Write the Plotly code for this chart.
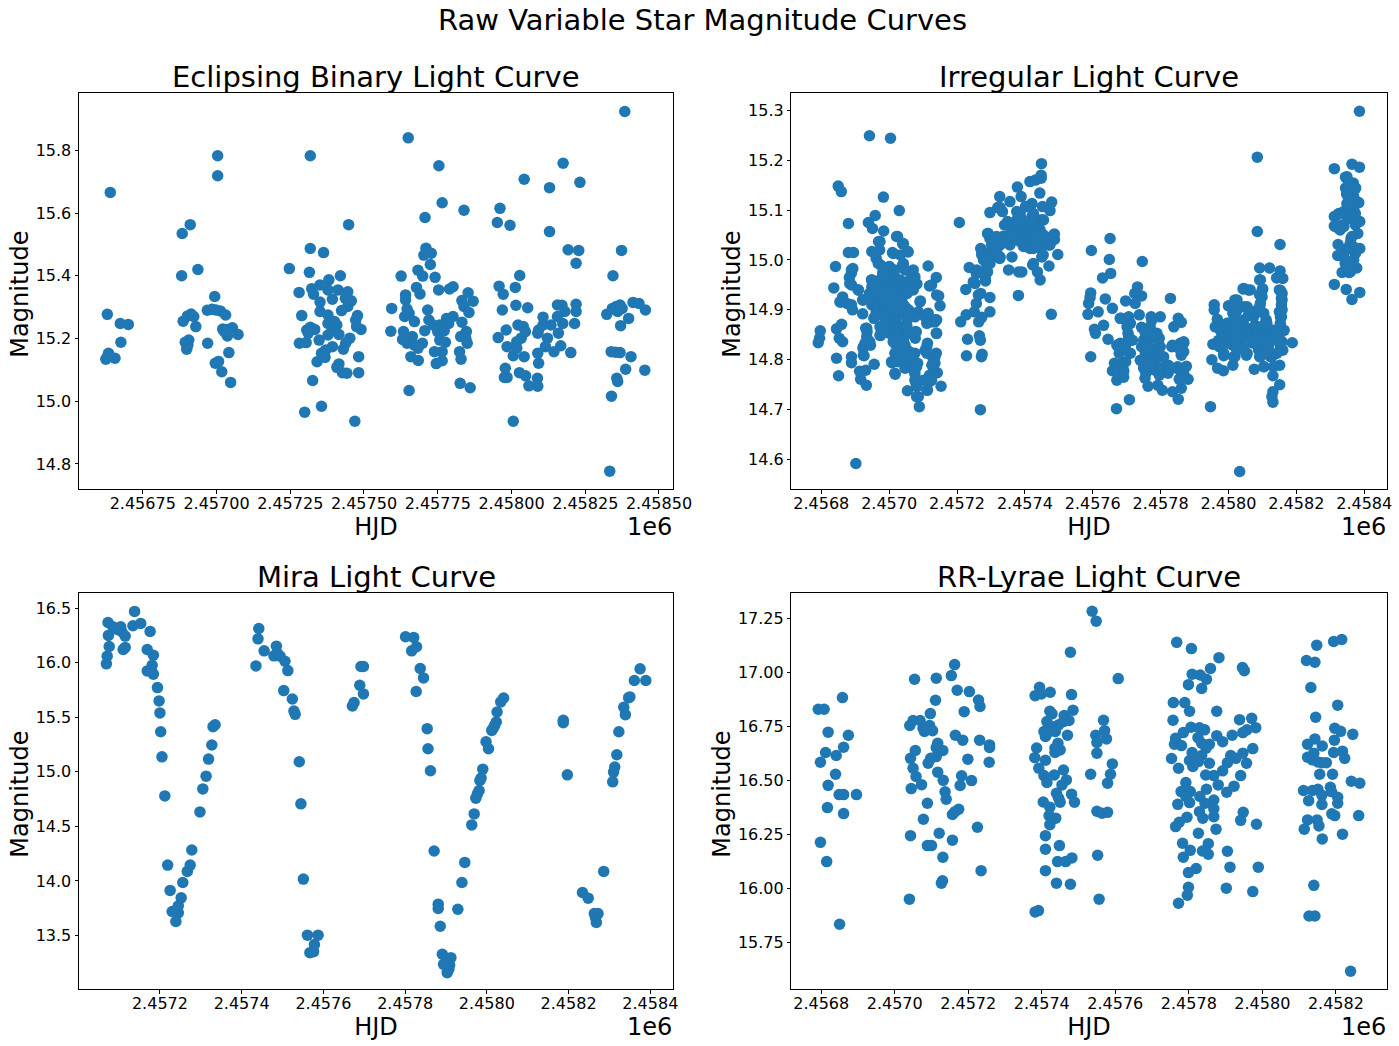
import plotly.graph_objects as go

# Each point is (HJD - 2450000, magnitude)
HJD_OFFSET = 2450000

eclipsing = [
(6640,15.666),(6630,15.277),(6674,15.248),(6701,15.245),(6676,15.188),(6634,15.153),(6625,15.134),(6631,15.142),(6656,15.137),
(6884,15.535),(6911,15.563),(6882,15.400),(6937,15.420),(6887,15.255),(6994,15.334),(6902,15.272),(6914,15.278),(6923,15.270),(6930,15.238),
(6969,15.290),(6985,15.293),(6998,15.291),(7013,15.288),(7031,15.275),(6906,15.195),(6894,15.188),(6903,15.179),(6899,15.166),(6970,15.185),
(6996,15.121),(7007,15.127),(7018,15.094),(7048,15.060),(7042,15.155),(7004,15.783),(7004,15.719),(7021,15.230),(7037,15.229),(7054,15.234),
(7037,15.208),(7073,15.213),(7027,15.222),
(7318,15.783),(7448,15.563),(7247,15.423),(7318,15.487),(7363,15.474),(7315,15.411),(7420,15.400),(7381,15.387),(7280,15.347),(7323,15.359),
(7329,15.341),(7351,15.371),(7378,15.355),(7412,15.355),(7445,15.349),(7393,15.325),(7437,15.328),(7457,15.320),(7351,15.316),(7445,15.302),
(7424,15.289),(7351,15.286),(7289,15.273),(7378,15.275),(7478,15.273),(7472,15.259),(7378,15.248),(7400,15.254),(7408,15.243),(7318,15.236),
(7333,15.229),(7306,15.227),(7311,15.217),(7393,15.229),(7378,15.211),(7415,15.213),(7475,15.238),(7490,15.229),(7452,15.201),(7348,15.195),
(7281,15.185),(7304,15.187),(7438,15.185),(7430,15.166),(7393,15.174),(7370,15.163),(7356,15.153),(7368,15.140),(7341,15.126),(7482,15.142),
(7415,15.119),(7408,15.108),(7427,15.091),(7442,15.089),(7482,15.091),(7326,15.066),(7299,14.965),(7356,14.984),(7469,14.936),
(7650,15.840),(7754,15.751),(7765,15.633),(7707,15.586),(7839,15.609),(7710,15.488),(7728,15.472),(7703,15.466),(7725,15.436),(7683,15.418),
(7699,15.399),(7741,15.395),(7626,15.399),(7678,15.363),(7753,15.355),(7790,15.358),(7802,15.365),(7853,15.346),(7690,15.342),(7641,15.339),
(7641,15.323),(7832,15.321),(7870,15.319),(7839,15.302),(7594,15.296),(7646,15.294),(7716,15.291),(7856,15.283),(7653,15.280),(7638,15.270),
(7802,15.270),(7780,15.264),(7671,15.254),(7720,15.259),(7832,15.252),(7735,15.243),(7757,15.243),(7787,15.248),(7706,15.225),(7591,15.223),
(7634,15.222),(7750,15.222),(7772,15.225),(7847,15.222),(7664,15.206),(7631,15.197),(7828,15.206),(7845,15.201),(7757,15.195),(7776,15.188),
(7646,15.185),(7698,15.185),(7671,15.179),(7850,15.185),(7683,15.169),(7824,15.158),(7739,15.158),(7765,15.158),(7659,15.142),(7829,15.134),
(7684,15.130),(7765,15.129),(7745,15.120),(7826,15.057),(7860,15.043),(7653,15.034),
(7961,15.615),(7952,15.570),(7995,15.561),(8043,15.708),(8129,15.681),(8175,15.759),(8232,15.698),(8129,15.541),(8192,15.483),(8228,15.481),
(8219,15.440),(8028,15.401),(7958,15.367),(8013,15.363),(7972,15.341),(8015,15.306),(8055,15.298),(8156,15.307),(8171,15.306),(8219,15.309),
(7969,15.291),(8219,15.286),(8181,15.286),(8107,15.268),(8156,15.270),(8174,15.248),(8214,15.248),(8022,15.243),(8040,15.238),(8107,15.243),
(8134,15.243),(7982,15.227),(8047,15.222),(8092,15.227),(8089,15.217),(8159,15.217),(7955,15.203),(8033,15.201),(8122,15.201),(8018,15.190),
(7985,15.174),(8115,15.174),(8167,15.177),(8018,15.169),(8144,15.158),(8089,15.153),(8201,15.155),(8006,15.145),(8043,15.142),(8092,15.121),
(7979,15.105),(8027,15.091),(8048,15.081),(8088,15.073),(7976,15.076),(7985,15.076),(8059,15.049),(8089,15.048),(8006,14.936),
(8384,15.924),(8373,15.481),(8344,15.400),(8323,15.277),(8342,15.296),(8355,15.302),(8368,15.307),(8375,15.296),(8360,15.286),(8412,15.315),
(8432,15.312),(8454,15.291),(8397,15.264),(8370,15.241),(8338,15.158),(8353,15.156),(8368,15.155),(8405,15.142),(8387,15.102),(8452,15.099),
(8357,15.073),(8360,15.063),(8339,15.016),(8333,14.777),
]

irregular = [
(6791,14.834),(6795,14.843),(6797,14.858),(6837,14.944),(6842,14.987),(6850,15.148),(6859,15.137),(6880,15.073),(6880,15.015),(6895,15.015),
(6942,15.249),(7004,15.244),(6983,15.126),(7030,15.099),(6959,15.089),(6939,15.075),(6951,15.063),(6984,15.058),(6845,14.862),(6860,14.871),
(6853,14.843),(6863,14.836),(6845,14.803),(6889,14.806),(6889,14.794),(6851,14.768),(6913,14.777),(6931,14.779),(6916,14.761),(6933,14.749),
(6956,14.791),(6902,14.592),(7054,14.738),(7086,14.726),(7089,14.706),(7113,14.739),(7153,14.747),(7142,14.774),(7115,14.988),(7139,14.965),
(7119,14.948),(7146,14.928),(7150,14.908),(7092,14.918),(7135,14.876),(7139,14.853),(7139,14.813),
(7025,15.047),(6969,15.037),(7040,15.032),(6949,15.017),(7010,15.015),(7055,15.017),(6972,15.020),(6962,15.003),(7033,15.010),(6975,14.990),
(7001,14.987),(7040,14.990),(6893,14.983),(6889,14.974),(6981,14.973),(7014,14.976),(6883,14.965),(7070,14.968),(6949,14.960),(6994,14.960),
(7027,14.960),(6889,14.950),(7060,14.953),(7082,14.952),(6949,14.946),(6975,14.946),(7007,14.946),(7040,14.943),(6909,14.940),(6942,14.933),
(6988,14.933),(7020,14.932),(7053,14.933),(6863,14.926),(6922,14.920),(6968,14.920),(7001,14.920),(7034,14.920),(6857,14.916),(6876,14.913),
(6949,14.910),(6981,14.910),(7014,14.906),(7047,14.906),(6892,14.900),(6922,14.892),(6962,14.896),(7001,14.893),(7034,14.892),(7073,14.892),
(7106,14.886),(6955,14.883),(6988,14.880),(7020,14.876),(7053,14.880),(7126,14.876),(6931,14.863),(7007,14.863),(7034,14.859),(6935,14.856),
(6975,14.849),(7020,14.846),(7047,14.849),(7080,14.856),(7077,14.843),(6945,14.829),(6929,14.833),(7020,14.829),(7047,14.829),(7113,14.833),
(7106,14.819),(6923,14.823),(6926,14.808),(7027,14.816),(7060,14.816),(7008,14.794),(7034,14.799),(7054,14.786),(7084,14.793),(7130,14.801),
(7133,14.793),(7018,14.771),(7047,14.783),(7075,14.776),(7079,14.759),(7119,14.769),(7119,14.756),(7079,14.753),(7126,14.789),
(6973,14.960),(7002,14.966),(7032,14.960),(7061,14.960),(6963,14.940),(6993,14.943),(7022,14.940),(7052,14.943),(6948,14.920),(6978,14.923),
(7007,14.923),(7037,14.920),(6968,14.903),(6998,14.903),(7027,14.903),(7057,14.900),(7086,14.896),(7115,14.893),(7135,14.880),(6958,14.886),
(6988,14.886),(7017,14.883),(7032,14.866),(7052,14.853),(7027,14.846),(6973,14.849),(7002,14.853),(7027,14.826),(7052,14.819),(7032,14.809),
(7076,14.856),(7066,14.799),(7081,14.786),(7076,14.759),(7135,14.806),(7130,14.773),(7125,14.759),(7111,14.826),(7140,14.853),(6958,15.013),
(6973,15.037),(6968,14.993),(6998,14.986),(7022,15.047),(7042,15.033),(7042,14.993),(7056,15.016),(7012,15.013),(6855,14.916),(6889,14.910),
(6924,14.920),(6889,14.980),(6884,14.953),(6909,14.940),(6948,14.960),(7076,14.966),(7125,14.950),(7140,14.930),(6924,14.826),(6943,14.836),
(6934,14.863),(6924,14.809),(7091,14.916),
(7012,14.836),(7042,14.836),(7017,14.813),(7052,14.799),(7027,14.796),(7076,14.813),(7076,14.772),(7101,14.759),(7111,14.813),(7135,14.793),
(7081,14.746),(7081,14.726),(7111,14.739),(7017,14.773),(7007,14.796),(6934,14.846),(6973,14.866),(6993,14.866),(7052,14.869),(7076,14.886),
(7111,14.873),(7140,14.880),(6983,14.906),(7012,14.906),(7042,14.910),(6953,14.946),(7071,14.940),(6983,14.980),(7017,14.980),(7047,14.980),
(7071,14.980),
(7207,15.075),(7211,14.876),(7227,14.890),(7231,14.841),(7228,14.808),(7226,14.941),(7236,14.985),(7248,14.956),(7257,14.913),(7251,14.896),
(7264,14.876),(7273,14.885),(7297,14.896),(7266,14.848),(7269,14.839),(7274,14.811),(7272,14.806),(7269,14.700),(7297,14.925),(7270,14.933),
(7284,14.958),(7270,15.023),(7273,15.010),(7257,14.973),(7290,14.976),(7297,14.993),(7290,15.053),(7297,15.043),(7297,15.095),(7320,15.105),
(7326,15.127),(7334,15.097),(7356,15.117),(7378,15.146),(7389,15.127),(7415,15.157),(7431,15.160),(7448,15.164),(7449,15.193),(7448,15.170),
(7444,15.134),(7479,15.116),(7474,15.099),(7452,15.107),(7349,15.077),(7340,15.070),(7376,15.097),(7402,15.107),(7421,15.113),(7389,15.083),
(7421,15.087),(7452,15.080),(7362,15.063),(7402,15.063),(7435,15.060),(7336,15.047),(7376,15.047),(7408,15.047),(7441,15.047),(7487,15.052),
(7487,15.041),(7323,15.030),(7356,15.030),(7408,15.027),(7435,15.030),(7474,15.030),(7497,15.011),(7454,15.010),(7297,15.003),(7326,15.003),
(7362,15.006),(7423,14.990),(7471,14.988),(7352,14.980),(7382,14.976),(7391,14.976),(7437,14.976),(7445,14.960),(7381,14.929),(7478,14.891),
(7415,15.107),(7386,15.093),(7425,15.093),(7376,15.080),(7405,15.073),(7445,15.080),(7346,15.070),(7376,15.060),(7415,15.057),(7445,15.060),
(7337,15.047),(7366,15.043),(7396,15.047),(7425,15.040),(7455,15.040),(7484,15.050),(7327,15.030),(7356,15.033),(7415,15.023),(7445,15.023),
(7469,15.030),(7297,15.016),(7273,15.016),(7287,14.993),(7258,14.980),(7283,14.966),(7253,14.953),(7263,14.930),(7317,15.016),(7327,15.006),
(7450,15.006),(7425,14.993),(7292,15.053),(7327,15.105),
(7405,15.107),(7386,15.080),(7425,15.073),(7455,15.080),(7366,15.067),(7396,15.060),(7435,15.057),(7386,15.037),(7425,15.023),(7396,15.027),
(7455,15.050),(7346,15.047),(7317,15.047),(7302,15.030),(7278,15.000),(7268,14.976),
(7596,15.019),(7651,15.043),(7649,15.001),(7653,14.973),(7629,14.964),(7746,14.997),(7594,14.934),(7592,14.925),(7588,14.913),(7586,14.891),
(7616,14.896),(7637,14.922),(7658,14.903),(7697,14.918),(7732,14.946),(7724,14.933),(7744,14.928),(7829,14.923),(7605,14.861),(7608,14.853),
(7632,14.869),(7594,14.806),(7645,14.841),(7684,14.883),(7711,14.873),(7737,14.890),(7772,14.886),(7799,14.886),(7852,14.883),(7861,14.875),
(7839,14.866),(7744,14.865),(7770,14.860),(7704,14.853),(7671,14.829),(7697,14.829),(7717,14.839),(7757,14.843),(7783,14.843),(7796,14.843),
(7868,14.836),(7835,14.829),(7855,14.826),(7744,14.826),(7770,14.823),(7868,14.816),(7861,14.809),(7678,14.813),(7711,14.813),(7757,14.806),
(7790,14.806),(7809,14.806),(7664,14.793),(7697,14.796),(7751,14.789),(7777,14.789),(7817,14.789),(7850,14.786),(7876,14.787),(7658,14.778),
(7691,14.776),(7757,14.773),(7796,14.769),(7822,14.773),(7861,14.773),(7671,14.759),(7691,14.765),(7754,14.763),(7855,14.761),(7881,14.761),
(7763,14.747),(7792,14.749),(7805,14.739),(7835,14.736),(7861,14.743),(7852,14.721),(7708,14.720),(7670,14.702),
(7769,14.866),(7769,14.846),(7794,14.839),(7750,14.839),(7779,14.819),(7755,14.813),(7804,14.806),(7784,14.796),(7760,14.786),(7814,14.783),
(7784,14.779),(7696,14.819),(7681,14.833),(7706,14.846),(7701,14.866),(7706,14.886),(7725,14.913),(7681,14.883),(7686,14.793),(7676,14.773),
(7858,14.833),(7858,14.819),(7833,14.826),(7740,14.799),(7868,14.773),(7848,14.783),(7858,14.762),
(7774,14.879),(7755,14.853),(7789,14.853),(7760,14.826),(7799,14.826),(7774,14.806),(7799,14.783),(7769,14.793),(7750,14.783),(7823,14.789),
(7848,14.826),(7868,14.833),(7686,14.826),(7701,14.836),(7676,14.786),(7691,14.779),
(7947,14.706),(8033,14.576),(8085,15.206),(8085,15.057),(8152,15.031),(8092,14.984),(8121,14.984),(8152,14.978),(8142,14.964),(8160,14.963),
(8092,14.960),(8043,14.942),(8059,14.940),(8101,14.942),(8150,14.940),(8156,14.923),(8092,14.930),(8019,14.920),(7958,14.910),(8000,14.908),
(7958,14.900),(8046,14.906),(8092,14.906),(8156,14.910),(8150,14.896),(8156,14.886),(8013,14.893),(8059,14.889),(7967,14.881),(8111,14.880),
(8000,14.873),(8039,14.876),(8079,14.869),(8150,14.863),(7973,14.863),(8019,14.859),(8053,14.853),(8092,14.856),(8125,14.856),(8164,14.859),
(7998,14.846),(8032,14.843),(8078,14.843),(8111,14.843),(8150,14.843),(7954,14.831),(7973,14.826),(8013,14.829),(8046,14.826),(8086,14.829),
(8118,14.829),(8188,14.834),(8160,14.819),(7986,14.808),(8019,14.806),(8053,14.809),(8092,14.806),(8124,14.806),(7951,14.800),(8013,14.789),
(7968,14.783),(7985,14.778),(8076,14.781),(8105,14.786),(8151,14.789),(8131,14.768),(8151,14.750),(8131,14.736),(8128,14.726),(8131,14.715),
(7976,14.859),(7996,14.873),(8025,14.880),(8045,14.880),(7996,14.853),(8025,14.859),(7971,14.839),(7996,14.833),(8020,14.836),(8074,14.853),
(8104,14.853),(8133,14.859),(8158,14.859),(8074,14.833),(8104,14.833),(8128,14.839),(8158,14.836),(8055,14.846),(7986,14.813),(8015,14.806),
(8055,14.813),(8094,14.806),(8128,14.806),(8153,14.826),(8109,14.873),(8084,14.866),(8015,14.906),(8025,14.920),(8055,14.906),(8084,14.899),
(8099,14.939),(8153,14.939),(8158,14.920),(8158,14.900),(8153,14.886),(8045,14.943),(8064,14.940),(8104,14.786),(8133,14.786),(8094,14.960),
(7986,14.866),(8005,14.846),(7976,14.826),(8055,14.863),(8089,14.846),(8118,14.853),(8143,14.846),(8089,14.819),(8118,14.819),(8143,14.813),
(8025,14.819),(7961,14.866),(8025,14.899),(8074,14.886),(8104,14.893),(8113,14.873),(8099,14.926),(8094,14.913),(8153,14.873),(8158,14.933),
(8312,15.183),(8364,15.192),(8386,15.186),(8386,15.298),(8345,15.166),(8368,15.154),(8345,15.144),(8375,15.144),(8348,15.132),(8368,15.127),
(8384,15.115),(8355,15.110),(8368,15.097),(8325,15.093),(8312,15.087),(8355,15.083),(8387,15.077),(8374,15.070),(8312,15.068),(8335,15.070),
(8329,15.060),(8381,15.053),(8361,15.043),(8323,15.031),(8387,15.023),(8367,15.027),(8374,15.013),(8322,15.009),(8342,15.003),(8364,14.995),
(8378,14.984),(8335,14.975),(8355,14.975),(8312,14.951),(8347,14.941),(8387,14.935),(8364,14.921),
(8349,15.167),(8364,15.150),(8349,15.137),(8369,15.127),(8349,15.113),(8369,15.103),(8340,15.097),(8320,15.090),(8359,15.087),(8384,15.077),
(8340,15.067),(8325,15.063),(8364,15.047),(8379,15.023),(8359,15.023),(8340,15.013),(8344,14.993),(8364,14.990),(8359,14.976),
(8354,15.154),(8359,15.120),(8349,15.087),(8374,15.093),(8315,15.067),(8359,15.033),(8349,15.023),(8369,15.000),
]

mira = [
(7069,15.989),(7071,16.059),(7076,16.148),(7074,16.249),(7073,16.368),(7085,16.329),(7096,16.304),(7104,16.329),(7107,16.283),(7115,16.243),
(7110,16.120),(7115,16.139),(7134,16.338),(7138,16.469),(7153,16.359),(7176,16.286),(7169,16.120),(7184,16.068),(7181,15.976),(7169,15.924),
(7179,15.930),(7184,15.894),(7194,15.771),(7198,15.649),(7200,15.539),(7202,15.367),(7205,15.137),(7212,14.779),(7219,14.145),(7225,13.913),
(7230,13.720),(7245,13.708),(7239,13.628),(7245,13.772),(7252,13.845),(7256,13.986),(7267,14.087),(7274,14.145),(7278,14.283),(7298,14.632),
(7305,14.843),(7313,14.960),(7319,15.116),(7327,15.245),(7330,15.413),(7335,15.431),
(7435,15.970),(7440,16.218),(7442,16.313),(7455,16.108),(7479,16.062),(7485,16.151),(7488,16.084),(7494,16.059),(7506,16.013),(7513,15.927),
(7503,15.744),(7524,15.667),(7528,15.557),(7531,15.526),(7541,15.092),(7545,14.706),(7551,14.017),(7561,13.503),(7587,13.503),(7578,13.417),
(7576,13.352),(7567,13.343),
(7671,15.603),(7675,15.634),(7689,15.793),(7692,15.964),(7698,15.964),(7698,15.713),
(7801,16.237),(7821,16.231),(7828,16.145),(7816,16.108),(7837,15.946),(7845,15.860),(7827,15.735),(7854,15.395),(7856,15.211),(7862,15.009),
(7871,14.274),(7881,13.787),(7881,13.747),(7886,13.585),(7891,13.328),(7912,13.297),(7894,13.236),(7909,13.230),(7907,13.190),(7903,13.160),
(7901,13.236),(7929,13.741),(7939,13.986),(7946,14.170),(7963,14.513),(7969,14.614),(7973,14.758),(7977,14.798),(7981,14.828),(7983,14.920),
(7986,14.942),(7990,15.024),(7998,15.275),(8004,15.211),(8012,15.379),(8016,15.401),(8019,15.425),(8023,15.456),(8025,15.548),(8034,15.640),
(8041,15.676),
(8187,15.471),(8187,15.450),(8197,14.972),(8234,13.894),(8248,13.842),(8263,13.701),(8272,13.701),(8266,13.665),(8268,13.619),(8286,14.087),
(8308,14.908),(8310,14.997),(8313,15.043),(8318,15.156),(8323,15.367),(8335,15.591),(8339,15.523),(8347,15.679),(8350,15.686),(8361,15.836),
(8375,15.943),(8389,15.836),
]

rr_lyrae = [
(6792,16.830),(6808,16.830),(6858,16.884),(6819,16.724),(6874,16.710),(6861,16.654),(6812,16.630),(6841,16.616),(6798,16.585),(6839,16.529),
(6819,16.478),(6849,16.435),(6861,16.435),(6896,16.435),(6817,16.375),(6861,16.347),(6798,16.214),(6815,16.125),(6850,15.835),
(7054,16.969),(7113,16.974),(7163,17.037),(7154,16.986),(7170,16.918),(7203,16.912),(7228,16.873),(7232,16.843),(7111,16.872),(7189,16.819),
(7097,16.810),(7050,16.778),(7069,16.778),(7041,16.755),(7095,16.755),(7077,16.742),(7103,16.731),(7081,16.727),(7165,16.710),(7185,16.687),
(7231,16.687),(7117,16.673),(7258,16.665),(7258,16.653),(7056,16.639),(7113,16.653),(7131,16.639),(7113,16.611),(7098,16.603),(7043,16.603),
(7199,16.599),(7091,16.580),(7257,16.585),(7050,16.557),(7117,16.539),(7058,16.519),(7182,16.522),(7132,16.501),(7209,16.500),(7073,16.481),
(7178,16.477),(7045,16.463),(7137,16.448),(7140,16.414),(7089,16.395),(7174,16.367),(7164,16.356),(7157,16.343),(7078,16.321),(7225,16.284),
(7121,16.256),(7043,16.245),(7157,16.224),(7089,16.199),(7100,16.199),(7131,16.145),(7235,16.083),(7130,16.036),(7127,16.025),(7040,15.951),
(7537,17.284),(7548,17.238),(7478,17.094),(7608,16.972),(7394,16.932),(7382,16.893),(7399,16.901),(7423,16.909),(7481,16.898),(7485,16.826),
(7422,16.821),(7428,16.809),(7461,16.801),(7568,16.779),(7474,16.778),(7414,16.773),(7459,16.773),(7446,16.758),(7428,16.750),(7406,16.727),
(7571,16.731),(7422,16.727),(7437,16.727),(7410,16.704),(7470,16.710),(7547,16.710),(7576,16.693),(7550,16.676),(7444,16.673),(7386,16.651),
(7436,16.650),(7450,16.642),(7436,16.630),(7550,16.627),(7381,16.606),(7410,16.594),(7592,16.577),(7392,16.557),(7459,16.549),(7406,16.523),
(7434,16.526),(7533,16.529),(7587,16.529),(7467,16.503),(7414,16.491),(7455,16.480),(7579,16.488),(7440,16.441),(7481,16.437),(7446,16.418),
(7404,16.401),(7450,16.400),(7489,16.400),(7422,16.377),(7550,16.358),(7564,16.349),(7579,16.353),(7420,16.338),(7438,16.326),(7422,16.296),
(7410,16.245),(7448,16.199),(7410,16.182),(7552,16.154),(7482,16.142),(7443,16.125),(7465,16.125),(7410,16.083),(7440,16.025),(7478,16.020),
(7556,15.951),(7391,15.898),(7382,15.892),
(7767,17.140),(7807,17.111),(7882,17.069),(7859,17.019),(7946,17.023),(7951,17.009),(7809,16.992),(7831,16.989),(7848,16.969),(7799,16.944),
(7835,16.926),(7758,16.861),(7789,16.861),(7802,16.821),(7876,16.821),(7757,16.779),(7938,16.782),(7971,16.788),(7806,16.747),(7829,16.744),
(7843,16.735),(7982,16.745),(7958,16.735),(7947,16.722),(7785,16.722),(7918,16.710),(7876,16.708),(7764,16.696),(7825,16.699),(7892,16.680),
(7761,16.668),(7780,16.662),(7835,16.673),(7856,16.668),(7974,16.648),(7847,16.650),(7809,16.630),(7947,16.627),(7914,16.616),(7835,16.616),
(7753,16.602),(7928,16.603),(7802,16.593),(7826,16.588),(7905,16.583),(7811,16.565),(7856,16.580),(7957,16.580),(7772,16.557),(7892,16.545),
(7846,16.526),(7868,16.523),(7941,16.523),(7792,16.491),(7880,16.480),(7923,16.474),(7848,16.460),(7779,16.449),(7804,16.449),(7903,16.446),
(7830,16.426),(7792,16.426),(7770,16.390),(7802,16.398),(7868,16.410),(7844,16.395),(7868,16.369),(7829,16.356),(7948,16.353),(7795,16.330),
(7838,16.326),(7868,16.333),(7941,16.316),(7774,16.307),(7764,16.287),(7984,16.298),(7874,16.275),(7826,16.256),(7783,16.210),(7853,16.208),
(7804,16.177),(7905,16.173),(7837,16.174),(7853,16.159),(7785,16.145),(7912,16.099),(7989,16.099),(7820,16.093),(7799,16.074),(7799,16.006),
(7902,16.002),(7974,15.986),(7796,15.969),(7772,15.932),
(8216,17.153),(8194,17.144),(8148,17.127),(8120,17.056),(8143,17.048),(8132,16.931),(8205,16.849),(8145,16.793),(8197,16.742),(8213,16.728),
(8246,16.714),(8143,16.693),(8196,16.687),(8123,16.668),(8163,16.660),(8218,16.636),(8194,16.630),(8140,16.627),(8123,16.608),(8224,16.603),
(8136,16.596),(8151,16.586),(8174,16.583),(8162,16.583),(8156,16.529),(8191,16.529),(8242,16.497),(8265,16.488),(8185,16.469),(8112,16.454),
(8136,16.454),(8151,16.460),(8188,16.449),(8162,16.432),(8205,16.423),(8126,16.407),(8205,16.395),(8162,16.389),(8189,16.346),(8197,16.338),
(8262,16.338),(8123,16.318),(8149,16.318),(8154,16.290),(8114,16.275),(8218,16.252),(8163,16.230),(8140,16.015),(8127,15.873),(8143,15.873),
(8240,15.617),
]

titles = ["Eclipsing Binary Light Curve", "Irregular Light Curve", "Mira Light Curve", "RR-Lyrae Light Curve"]
x_ticks_eb = ["2.45675", "2.45700", "2.45725", "2.45750", "2.45775", "2.45800", "2.45825", "2.45850"]
x_ticks_ir = ["2.4568", "2.4570", "2.4572", "2.4574", "2.4576", "2.4578", "2.4580", "2.4582", "2.4584"]
x_ticks_mi = ["2.4572", "2.4574", "2.4576", "2.4578", "2.4580", "2.4582", "2.4584"]
x_ticks_rr = ["2.4568", "2.4570", "2.4572", "2.4574", "2.4576", "2.4578", "2.4580", "2.4582"]

W, H = 1399, 1046
BLUE = "#1f77b4"
FONT = "DejaVu Sans"

panels = [
    dict(data=eclipsing, title=titles[0], ticks=x_ticks_eb, px=(79, 673), py=(93.3, 489), ylab=20,
         xr=(6534, 8547.5), yr=(14.720, 15.982), dy=0.2, fmt=".1f"),
    dict(data=irregular, title=titles[1], ticks=x_ticks_ir, px=(791.4, 1386.6), py=(93.3, 489), ylab=732,
         xr=(6712, 8466), yr=(14.541, 15.334), dy=0.1, fmt=".1f"),
    dict(data=mira, title=titles[2], ticks=x_ticks_mi, px=(79, 673), py=(593.3, 989), ylab=20,
         xr=(7002, 8455.5), yr=(13.01, 16.635), dy=0.5, fmt=".1f"),
    dict(data=rr_lyrae, title=titles[3], ticks=x_ticks_rr, px=(791.4, 1386.6), py=(593.3, 989), ylab=722,
         xr=(6719, 8338), yr=(15.535, 17.367), dy=0.25, fmt=".2f"),
]

fig = go.Figure()
annotations = [dict(text="Raw Variable Star Magnitude Curves", x=702 / W, y=1 - 20 / H, xref="paper", yref="paper",
                    xanchor="center", yanchor="middle", showarrow=False, font=dict(family=FONT, size=29, color="black"))]
layout_axes = {}
for i, p in enumerate(panels, start=1):
    xs = [HJD_OFFSET + d[0] for d in p["data"]]
    ys = [d[1] for d in p["data"]]
    xa, ya = f"x{i}", f"y{i}"
    fig.add_trace(go.Scatter(x=xs, y=ys, mode="markers", xaxis=xa, yaxis=ya, showlegend=False, cliponaxis=True,
                             marker=dict(size=11.5, color=BLUE, line=dict(width=0))))
    tickvals = [float(t) * 1e6 for t in p["ticks"]]
    common = dict(showgrid=False, zeroline=False, showline=True, mirror=True, linecolor="black", linewidth=1,
                  ticks="outside", ticklen=3.5, tickwidth=1, tickcolor="black",
                  tickfont=dict(family=FONT, size=16, color="black"))
    layout_axes[f"xaxis{i}"] = dict(
        common, domain=[p["px"][0] / W, p["px"][1] / W], anchor=ya,
        range=[HJD_OFFSET + p["xr"][0], HJD_OFFSET + p["xr"][1]],
        tickmode="array", tickvals=tickvals, ticktext=p["ticks"], ticklabelstandoff=-4,
        title=dict(text="HJD", font=dict(family=FONT, size=24, color="black"), standoff=5))
    layout_axes[f"yaxis{i}"] = dict(
        common, domain=[1 - p["py"][1] / H, 1 - p["py"][0] / H], anchor=xa,
        range=list(p["yr"]), tick0=0, dtick=p["dy"], tickformat=p["fmt"])
    annotations.append(dict(text=p["title"], x=(p["px"][0] + p["px"][1]) / 2 / W, y=1 - (p["py"][0] - 16) / H,
                            xref="paper", yref="paper", xanchor="center", yanchor="middle", showarrow=False,
                            font=dict(family=FONT, size=29, color="black")))
    annotations.append(dict(text="1e6", x=(p["px"][1] + 1) / W, y=1 - (p["py"][1] + 38) / H,
                            xref="paper", yref="paper", xanchor="right", yanchor="middle", showarrow=False,
                            font=dict(family=FONT, size=24, color="black")))
    annotations.append(dict(text="Magnitude", x=p["ylab"] / W, y=1 - ((p["py"][0] + p["py"][1]) / 2 + 3.5) / H,
                            xref="paper", yref="paper", xanchor="center", yanchor="middle", showarrow=False,
                            textangle=-90, font=dict(family=FONT, size=24, color="black")))

fig.update_layout(width=W, height=H, margin=dict(l=0, r=0, t=0, b=0, autoexpand=False), autosize=False,
                  paper_bgcolor="white", plot_bgcolor="white", annotations=annotations,
                  font=dict(family=FONT), **layout_axes)
fig.write_html("out.html", config={"displayModeBar": False},
               post_script="document.body.style.margin='0';document.body.style.overflow='hidden';")
